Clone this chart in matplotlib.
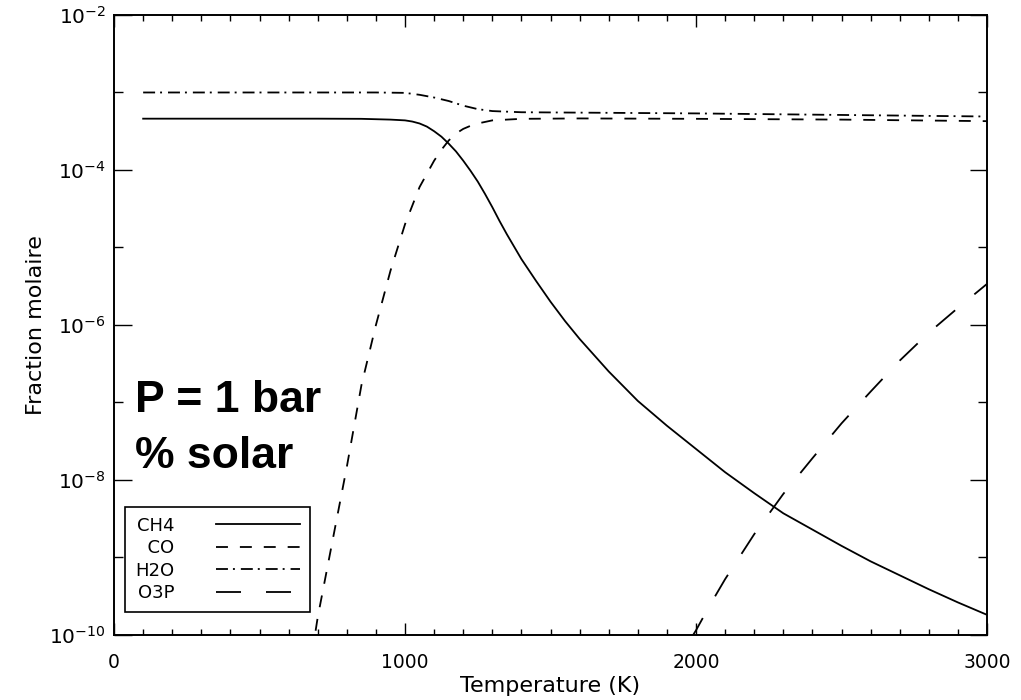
import matplotlib
matplotlib.use("Agg")
import matplotlib.pyplot as plt
import matplotlib.ticker as mticker
import numpy as np

# log10 of the mole fraction
t_ch4 = [100, 300, 500, 700, 850, 950, 1000, 1025, 1050, 1075, 1100, 1125, 1150, 1175,
         1200, 1225, 1250, 1275, 1300, 1325, 1350, 1375, 1400, 1450, 1500, 1550, 1600,
         1700, 1800, 1900, 2000, 2100, 2200, 2300, 2400, 2500, 2600, 2700, 2800, 2900, 3000]
ch4 = [-3.338, -3.338, -3.338, -3.338, -3.34, -3.35, -3.36, -3.375, -3.40, -3.44, -3.50,
       -3.57, -3.66, -3.76, -3.88, -4.01, -4.15, -4.31, -4.48, -4.66, -4.83, -4.99, -5.15,
       -5.43, -5.70, -5.95, -6.18, -6.60, -6.98, -7.30, -7.60, -7.90, -8.17, -8.43, -8.64,
       -8.85, -9.05, -9.23, -9.41, -9.58, -9.74]

t_co = [680, 700, 750, 800, 850, 900, 950, 1000, 1050, 1100, 1125, 1150, 1175, 1200,
        1225, 1250, 1300, 1400, 1600, 2000, 2500, 3000]
co = [-10.25, -9.77, -8.80, -7.83, -6.78, -6.00, -5.30, -4.70, -4.22, -3.88, -3.74,
      -3.62, -3.53, -3.47, -3.43, -3.40, -3.36, -3.34, -3.335, -3.34, -3.35, -3.37]

t_h2o = [100, 500, 900, 1000, 1050, 1100, 1150, 1200, 1250, 1300, 1400, 1600, 2000,
         2500, 3000]
h2o = [-3.0, -3.0, -3.0, -3.005, -3.03, -3.065, -3.11, -3.17, -3.215, -3.24, -3.255,
       -3.26, -3.27, -3.29, -3.31]

t_o3p = [1980, 2000, 2050, 2100, 2200, 2300, 2400, 2500, 2600, 2700, 2800, 2900, 3000]
o3p = [-10.06, -9.94, -9.60, -9.28, -8.70, -8.18, -7.72, -7.27, -6.86, -6.46, -6.10,
       -5.78, -5.47]

labels = ["CH4", "  CO", "H2O", "O3P"]

plt.rcParams["lines.scale_dashes"] = False
plt.rcParams["font.family"] = "DejaVu Sans"

fig = plt.figure(figsize=(10.21, 7.0), dpi=100)
ax = fig.add_axes([0.1117, 0.0929, 0.855, 0.8857])

lw = 1.3
ax.plot(t_ch4, 10.0 ** np.array(ch4), color="black", lw=lw, label=labels[0])
ax.plot(t_co, 10.0 ** np.array(co), color="black", lw=lw, dashes=(8.6, 8.6), label=labels[1])
ax.plot(t_h2o, 10.0 ** np.array(h2o), color="black", lw=lw,
        dashes=(8.6, 3.6, 1.4, 4.3), label=labels[2])
ax.plot(t_o3p, 10.0 ** np.array(o3p), color="black", lw=lw, dashes=(18, 18), label=labels[3])

ax.set_yscale("log")
ax.set_xlim(0, 3000)
ax.set_ylim(1e-10, 1e-2)

ax.xaxis.set_major_locator(mticker.FixedLocator([0, 1000, 2000, 3000]))
ax.xaxis.set_minor_locator(mticker.MultipleLocator(100))
ax.yaxis.set_major_locator(mticker.FixedLocator([1e-10, 1e-8, 1e-6, 1e-4, 1e-2]))
ax.yaxis.set_minor_locator(mticker.FixedLocator([1e-9, 1e-7, 1e-5, 1e-3]))
ax.yaxis.set_major_formatter(mticker.LogFormatterSciNotation())
ax.yaxis.set_minor_formatter(mticker.NullFormatter())

ax.tick_params(which="both", direction="in", top=True, right=True, color="black", width=1.0)
ax.tick_params(axis="x", which="major", length=8.9, pad=13, labelsize=13.5)
ax.tick_params(axis="x", which="minor", length=4.5)
ax.tick_params(axis="y", which="major", length=12.6, pad=6, labelsize=14.5)
ax.tick_params(axis="y", which="minor", length=6.3)
for s in ax.spines.values():
    s.set_linewidth(1.4)

ax.set_xlabel("Temperature (K)", fontsize=16, labelpad=3)
ax.set_ylabel("Fraction molaire", fontsize=16, labelpad=2.5)

ax.text(0.024, 0.36, "P = 1 bar", transform=ax.transAxes, fontsize=32,
        fontweight="bold", family="Liberation Sans", va="baseline", ha="left")
ax.text(0.024, 0.269, "% solar", transform=ax.transAxes, fontsize=32,
        fontweight="bold", family="Liberation Sans", va="baseline", ha="left")

leg = ax.legend(loc="lower left", bbox_to_anchor=(0.0126, 0.037), borderaxespad=0,
                markerfirst=False, fontsize=13, handlelength=4.7, handletextpad=2.3,
                labelspacing=0.25, borderpad=0.55, fancybox=False, framealpha=1,
                edgecolor="black")
leg.get_frame().set_linewidth(1.2)

fig.savefig("out.png", dpi=100)
